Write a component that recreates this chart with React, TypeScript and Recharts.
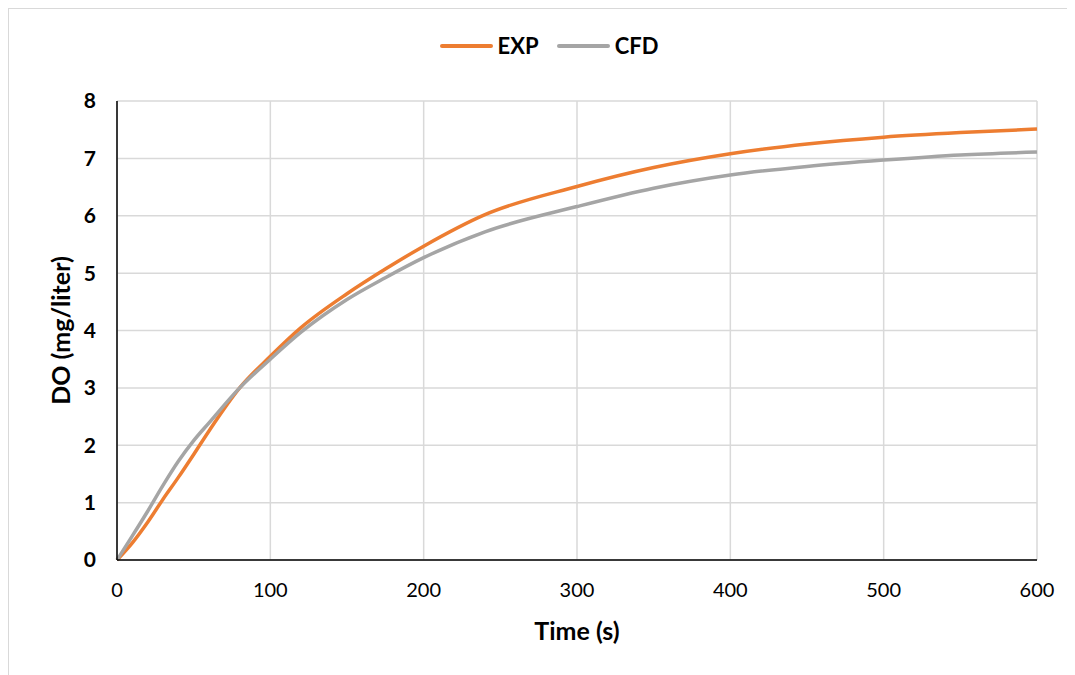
import React from "react";
import {
  LineChart,
  Line,
  XAxis,
  YAxis,
  CartesianGrid,
  Legend,
  Label,
} from "recharts";

// time (s)
const TIME = [0, 10, 20, 30, 40, 50, 60, 80, 100, 120, 150, 175, 200, 240, 300, 350, 400, 450, 500, 550, 600];
// measured DO (mg/liter)
const EXP = [0, 0.3, 0.66, 1.06, 1.44, 1.84, 2.25, 3.0, 3.55, 4.05, 4.64, 5.07, 5.47, 6.02, 6.51, 6.84, 7.08, 7.25, 7.37, 7.45, 7.51];
// simulated DO (mg/liter)
const CFD = [0, 0.42, 0.85, 1.3, 1.72, 2.08, 2.39, 3.0, 3.5, 3.97, 4.54, 4.92, 5.27, 5.72, 6.16, 6.48, 6.71, 6.86, 6.97, 7.06, 7.11];

const X_TICKS = [0, 100, 200, 300, 400, 500, 600];
const Y_TICKS = [0, 1, 2, 3, 4, 5, 6, 7, 8];
const SERIES_ORDER = ["EXP", "CFD"];

const data = TIME.map((t, i) => ({ t, exp: EXP[i], cfd: CFD[i] }));

const FONT = "Lato, 'Open Sans', sans-serif";

function LegendContent({ payload }: any) {
  const items = [...(payload || [])].sort(
    (a: any, b: any) => SERIES_ORDER.indexOf(a.value) - SERIES_ORDER.indexOf(b.value)
  );
  return (
    <div style={{ display: "flex", justifyContent: "center", alignItems: "center", paddingLeft: 14 }}>
      {items.map((p: any, i: number) => (
        <div key={i} style={{ display: "flex", alignItems: "center", marginLeft: i ? 18 : 0 }}>
          <span style={{ display: "inline-block", width: 53, height: 4, background: p.color, borderRadius: 2 }} />
          <span style={{ marginLeft: 5, fontFamily: FONT, fontWeight: 700, fontSize: 22, color: "#000" }}>
            {p.value}
          </span>
        </div>
      ))}
    </div>
  );
}

export default function App() {
  return (
    <div
      style={{
        width: 1067,
        height: 667,
        boxSizing: "border-box",
        borderLeft: "1px solid #d9d9d9",
        borderTop: "1px solid #d9d9d9",
        background: "#fff",
      }}
    >
      <LineChart width={1066} height={666} data={data} margin={{ top: 92, right: 38, left: 0, bottom: 0 }}>
        <CartesianGrid stroke="#d9d9d9" strokeWidth={1.5} />
        <XAxis
          dataKey="t"
          type="number"
          domain={[0, 600]}
          ticks={X_TICKS}
          height={115}
          tickLine={false}
          tickSize={0}
          tickMargin={23}
          axisLine={{ stroke: "#000", strokeWidth: 1.5 }}
          tick={{ fill: "#000", fontSize: 20, fontFamily: FONT }}
        >
          <Label
            content={({ viewBox }: any) => (
              <text
                x={viewBox.x + viewBox.width / 2}
                y={viewBox.y + 70}
                textAnchor="middle"
                dominantBaseline="central"
                fontFamily={FONT}
                fontWeight={700}
                fontSize={25}
                fill="#000"
              >
                Time (s)
              </text>
            )}
          />
        </XAxis>
        <YAxis
          type="number"
          domain={[0, 8]}
          ticks={Y_TICKS}
          width={108}
          tickLine={false}
          tickSize={0}
          tickMargin={21}
          axisLine={{ stroke: "#000", strokeWidth: 1.5 }}
          tick={{ fill: "#000", fontSize: 21, fontWeight: 700, fontFamily: FONT }}
        >
          <Label
            content={({ viewBox }: any) => {
              const cx = viewBox.x + 51;
              const cy = viewBox.y + viewBox.height / 2;
              return (
                <text
                  x={cx}
                  y={cy}
                  transform={`rotate(-90 ${cx} ${cy})`}
                  textAnchor="middle"
                  dominantBaseline="central"
                  fontFamily={FONT}
                  fontWeight={700}
                  fontSize={25}
                  fill="#000"
                >
                  DO (mg/liter)
                </text>
              );
            }}
          />
        </YAxis>
        <Legend
          layout="horizontal"
          verticalAlign="middle"
          align="center"
          wrapperStyle={{ top: 23, left: 0, width: 1066 }}
          content={<LegendContent />}
        />
        <Line
          type="monotone"
          dataKey="exp"
          name="EXP"
          stroke="#ed7d31"
          strokeWidth={3.5}
          dot={false}
          isAnimationActive={false}
        />
        <Line
          type="monotone"
          dataKey="cfd"
          name="CFD"
          stroke="#a5a5a5"
          strokeWidth={3.5}
          dot={false}
          isAnimationActive={false}
        />
      </LineChart>
    </div>
  );
}
